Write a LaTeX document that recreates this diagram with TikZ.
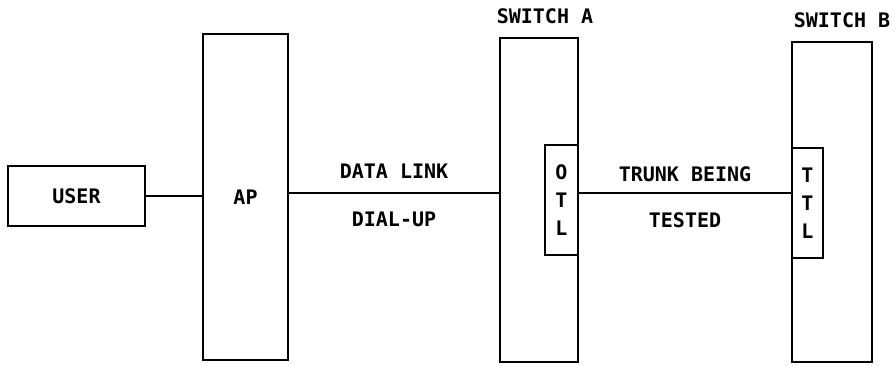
\documentclass[tikz,border=0pt]{standalone}
\usepackage{fontspec}
\setmonofont{DejaVu Sans Mono}
\usetikzlibrary{positioning}

\begin{document}
\begin{tikzpicture}[x=1pt, y=-1pt, line width=2pt]

  % Styles
  \tikzset{
    unit/.style={draw, inner sep=0pt, font=\ttfamily\bfseries\fontsize{20}{24}\selectfont},
    tester/.style={draw, inner sep=0pt, align=center, font=\ttfamily\bfseries\fontsize{20}{28}\selectfont},
    caption/.style={font=\ttfamily\bfseries\fontsize{20}{24}\selectfont, inner sep=2pt},
    link/.style={draw}
  }
  \useasboundingbox (0,0) rectangle (895,366);

  % --- USER AND AP ---
  \node[unit, minimum width=137pt, minimum height=60pt] (user) at (76.5,196) {USER};
  \node[unit, minimum width=85pt, minimum height=326pt] (ap) at (245.5,197) {AP};

  % --- SWITCH A ---
  \node[unit, minimum width=78pt, minimum height=324pt] (swa) at (539,200) {};
  \node[tester, minimum width=33pt, minimum height=110pt] (otl) at (561.5,200) {O\\T\\L};
  \node[caption, above=10pt of swa, xshift=6pt] (swalabel) {SWITCH A};

  % --- SWITCH B ---
  \node[unit, minimum width=80pt, minimum height=320pt] (swb) at (832,202) {};
  \node[tester, minimum width=31pt, minimum height=110pt] (ttl) at (807.5,203) {T\\T\\L};
  \node[caption, above=10pt of swb, xshift=10pt] (swblabel) {SWITCH B};

  % --- CONNECTIONS ---
  \draw[link] (user.east) -- (user.east -| ap.west);
  \draw[link] ([yshift=4pt]ap.east) -- ([yshift=4pt]ap.east -| swa.west)
    node[caption, midway, above=11pt] {DATA LINK}
    node[caption, midway, below=16pt] {DIAL-UP};
  \draw[link] ([yshift=7pt]otl.east) -- ([yshift=7pt]otl.east -| ttl.west)
    node[caption, midway, above=8pt] {TRUNK BEING}
    node[caption, midway, below=17pt] {TESTED};

\end{tikzpicture}
\end{document}
